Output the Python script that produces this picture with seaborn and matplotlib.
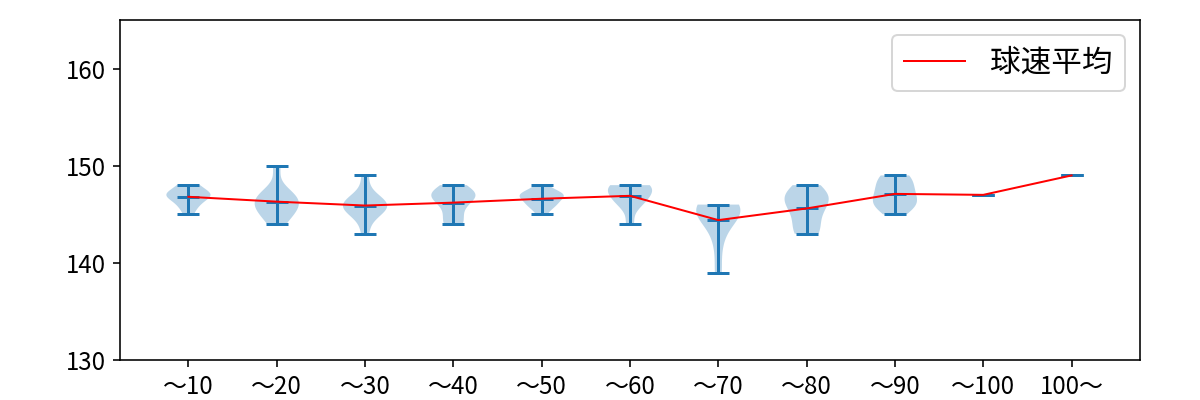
import numpy as np
import matplotlib
matplotlib.use("Agg")
import matplotlib.pyplot as plt
import seaborn as sns

plt.rcParams['font.family'] = ['Noto Sans CJK JP', 'DejaVu Sans']
plt.rcParams['font.size'] = 12

categories = ["～10", "～20", "～30", "～40", "～50", "～60", "～70", "～80", "～90", "～100", "100～"]

speeds_10 = [145, 146, 146, 147, 147, 147, 147, 148, 148, 147]
speeds_20 = [144, 145, 145, 146, 146, 146, 147, 147, 147, 150]
speeds_30 = [143, 145, 145, 146, 146, 146, 146, 146, 147, 149]
speeds_40 = [144, 144, 145, 146, 147, 147, 147, 147, 147, 148]
speeds_50 = [145, 146, 146, 146, 147, 147, 147, 147, 147, 148]
speeds_60 = [144, 146, 146, 147, 147, 147, 148, 148, 148, 148]
speeds_70 = [139, 142, 144, 145, 145, 145, 146, 146, 146, 146]
speeds_80 = [143, 143, 144, 145, 146, 146, 147, 147, 147, 148]
speeds_90 = [145, 146, 146, 146, 147, 147, 148, 148, 149, 149]
speeds_100 = [147]
speeds_over100 = [149]

groups = [speeds_10, speeds_20, speeds_30, speeds_40, speeds_50, speeds_60,
          speeds_70, speeds_80, speeds_90, speeds_100, speeds_over100]
positions = list(range(1, len(categories) + 1))
means = [float(np.mean(g)) for g in groups]

fig = plt.figure(figsize=(1200 / 144, 400 / 144), dpi=144)
ax = fig.add_axes([0.1, 0.1, 0.85, 0.85])

ax.violinplot(groups, positions=positions, showmeans=True, showextrema=True)
sns.lineplot(x=positions, y=means, color="red", linewidth=1, label="球速平均", ax=ax)

ax.set_ylim(130, 165)
ax.set_yticks([130, 140, 150, 160])
ax.set_xticks(positions)
ax.set_xticklabels(categories)
ax.legend(loc="upper right", fontsize=15.3)

fig.savefig("out.png", dpi=144)
